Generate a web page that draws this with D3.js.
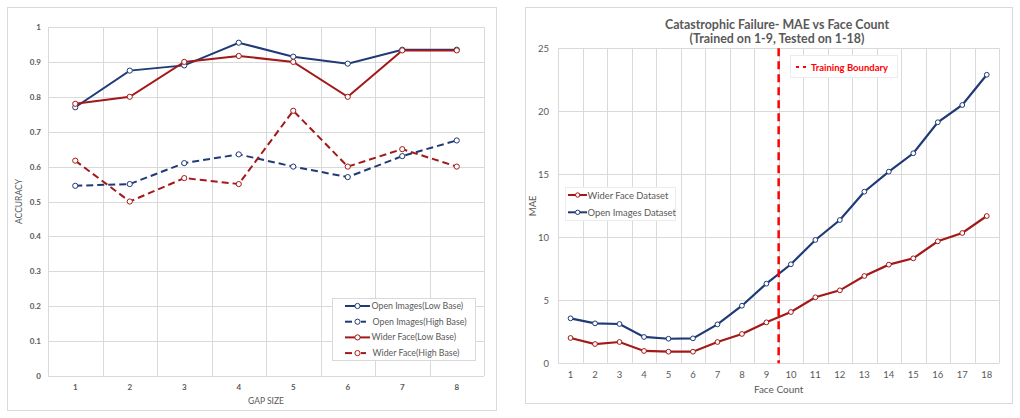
<!DOCTYPE html>
<html>
<head>
<meta charset="utf-8">
<script src="https://cdn.jsdelivr.net/npm/d3@7"></script>
<style>
  html, body { margin: 0; padding: 0; background: #fff; }
  svg { display: block; font-family: Lato, 'Open Sans', sans-serif; }
</style>
</head>
<body>
<svg id="chart" width="1020" height="418"></svg>
<script>
// left chart data
const gapSizes = [1, 2, 3, 4, 5, 6, 7, 8]
const openLow = [0.77, 0.875, 0.89, 0.955, 0.915, 0.895, 0.935, 0.935]
const openHigh = [0.545, 0.55, 0.61, 0.635, 0.60, 0.57, 0.63, 0.675]
const widerLow = [0.78, 0.80, 0.90, 0.917, 0.90, 0.80, 0.933, 0.933]
const widerHigh = [0.617, 0.50, 0.567, 0.55, 0.76, 0.60, 0.65, 0.60]
const accTicks = [0, 0.1, 0.2, 0.3, 0.4, 0.5, 0.6, 0.7, 0.8, 0.9, 1]

// right chart data
const faceCounts = [1, 2, 3, 4, 5, 6, 7, 8, 9, 10, 11, 12, 13, 14, 15, 16, 17, 18]
const openMae = [3.57, 3.17, 3.12, 2.09, 1.95, 1.98, 3.09, 4.57, 6.32, 7.86, 9.79, 11.37, 13.62, 15.21, 16.67, 19.13, 20.5, 22.9]
const widerMae = [2.01, 1.53, 1.69, 0.98, 0.92, 0.92, 1.69, 2.33, 3.25, 4.07, 5.24, 5.79, 6.93, 7.83, 8.33, 9.68, 10.34, 11.69]
const maeTicks = [0, 5, 10, 15, 20, 25]
const trainedUpTo = 9

const navy = '#1f3a76'
const red = '#a31818'
const grid = '#d9d9d9'
const textGrey = '#595959'

const svg = d3.select('#chart')

// ---------- left chart ----------
const left = svg.append('g')
left.append('rect')
  .attr('x', 7.5).attr('y', 7.5).attr('width', 489).attr('height', 403)
  .attr('fill', 'none').attr('stroke', grid)

const x1 = d3.scaleBand().domain(gapSizes).range([48, 484])
const y1 = d3.scaleLinear().domain([0, 1]).range([376, 27])

// horizontal grid
left.selectAll('line.hg')
  .data(accTicks)
  .join('line')
  .attr('x1', 48).attr('x2', 484)
  .attr('y1', d => Math.round(y1(d)) + 0.5)
  .attr('y2', d => Math.round(y1(d)) + 0.5)
  .attr('stroke', grid)

// vertical grid at band edges
left.selectAll('line.vg')
  .data(gapSizes.concat(['end']))
  .join('line')
  .attr('x1', (d, i) => Math.round(x1.range()[0] + i * x1.bandwidth()) + 0.5)
  .attr('x2', (d, i) => Math.round(x1.range()[0] + i * x1.bandwidth()) + 0.5)
  .attr('y1', y1(1)).attr('y2', y1(0))
  .attr('stroke', grid)

// y tick labels
left.selectAll('text.yt')
  .data(accTicks)
  .join('text')
  .attr('x', 41)
  .attr('y', d => y1(d) + 3)
  .attr('text-anchor', 'end')
  .attr('font-size', 8)
  .attr('font-weight', 'bold')
  .attr('fill', textGrey)
  .text(d => d3.format('~g')(d))

// x tick labels
left.selectAll('text.xt')
  .data(gapSizes)
  .join('text')
  .attr('x', d => x1(d) + x1.bandwidth() / 2)
  .attr('y', 390)
  .attr('text-anchor', 'middle')
  .attr('font-size', 8)
  .attr('font-weight', 'bold')
  .attr('fill', textGrey)
  .text(d => d)

left.append('text')
  .attr('x', (48 + 484) / 2).attr('y', 404)
  .attr('text-anchor', 'middle')
  .attr('font-size', 8.5).attr('fill', textGrey)
  .text('GAP SIZE')

left.append('text')
  .attr('transform', `translate(22,${(y1(0) + y1(1)) / 2}) rotate(-90)`)
  .attr('text-anchor', 'middle')
  .attr('font-size', 8.5).attr('fill', textGrey)
  .text('ACCURACY')

const leftSeries = [
  { name: 'Open Images(Low Base)', values: openLow, color: navy, dash: null },
  { name: 'Open Images(High Base)', values: openHigh, color: navy, dash: '7,4' },
  { name: 'Wider Face(Low Base)', values: widerLow, color: red, dash: null },
  { name: 'Wider Face(High Base)', values: widerHigh, color: red, dash: '7,4' },
]

const line1 = d3.line()
  .x((d, i) => x1(gapSizes[i]) + x1.bandwidth() / 2)
  .y(d => y1(d))

// draw high base first, then low
const drawOrder1 = [leftSeries[1], leftSeries[3], leftSeries[0], leftSeries[2]]
drawOrder1.forEach(s => {
  left.append('path')
    .attr('d', line1(s.values))
    .attr('fill', 'none')
    .attr('stroke', s.color)
    .attr('stroke-width', 2)
    .attr('stroke-dasharray', s.dash)
  left.selectAll(null)
    .data(s.values)
    .join('circle')
    .attr('cx', (d, i) => x1(gapSizes[i]) + x1.bandwidth() / 2)
    .attr('cy', d => y1(d))
    .attr('r', 2.6)
    .attr('fill', '#fff')
    .attr('stroke', s.color)
    .attr('stroke-width', 1)
})

// left legend
const lg1 = left.append('g')
lg1.append('rect')
  .attr('x', 332.5).attr('y', 298.5).attr('width', 143).attr('height', 62)
  .attr('fill', '#fff').attr('stroke', grid)
leftSeries.forEach((s, i) => {
  const ly = 306 + i * 15.7
  if (s.dash) {
    lg1.append('line').attr('x1', 345).attr('x2', 352).attr('y1', ly).attr('y2', ly)
      .attr('stroke', s.color).attr('stroke-width', 2)
    lg1.append('line').attr('x1', 361).attr('x2', 366).attr('y1', ly).attr('y2', ly)
      .attr('stroke', s.color).attr('stroke-width', 2)
  } else {
    lg1.append('line').attr('x1', 345).attr('x2', 370).attr('y1', ly).attr('y2', ly)
      .attr('stroke', s.color).attr('stroke-width', 2)
  }
  lg1.append('circle').attr('cx', 357.5).attr('cy', ly).attr('r', 2.6)
    .attr('fill', '#fff').attr('stroke', s.color)
  lg1.append('text')
    .attr('x', s.dash ? 372.5 : 371.5).attr('y', ly + 3)
    .attr('font-size', 8.8).attr('fill', textGrey)
    .text(s.name)
})

// ---------- right chart ----------
const right = svg.append('g')
right.append('rect')
  .attr('x', 525.5).attr('y', 7.5).attr('width', 487).attr('height', 396)
  .attr('fill', 'none').attr('stroke', grid)

const x2 = d3.scaleBand().domain(faceCounts).range([558.3, 999])
const y2 = d3.scaleLinear().domain([0, 25]).range([363.3, 48.3])

right.selectAll('line.hg')
  .data(maeTicks)
  .join('line')
  .attr('x1', 558.3).attr('x2', 999)
  .attr('y1', d => Math.round(y2(d)) + 0.5)
  .attr('y2', d => Math.round(y2(d)) + 0.5)
  .attr('stroke', grid)

right.selectAll('line.vg')
  .data(faceCounts.concat(['end']))
  .join('line')
  .attr('x1', (d, i) => Math.round(x2.range()[0] + i * x2.bandwidth()) + 0.5)
  .attr('x2', (d, i) => Math.round(x2.range()[0] + i * x2.bandwidth()) + 0.5)
  .attr('y1', y2(25)).attr('y2', y2(0))
  .attr('stroke', grid)

right.selectAll('text.yt')
  .data(maeTicks)
  .join('text')
  .attr('x', 549)
  .attr('y', d => y2(d) + 3.5)
  .attr('text-anchor', 'end')
  .attr('font-size', 9.5)
  .attr('fill', textGrey)
  .text(d => d)

right.selectAll('text.xt')
  .data(faceCounts)
  .join('text')
  .attr('x', d => x2(d) + x2.bandwidth() / 2)
  .attr('y', 378)
  .attr('text-anchor', 'middle')
  .attr('font-size', 9.5)
  .attr('fill', textGrey)
  .text(d => d)

right.append('text')
  .attr('x', (558.3 + 999) / 2).attr('y', 393)
  .attr('text-anchor', 'middle')
  .attr('font-size', 10).attr('fill', textGrey)
  .text('Face Count')

right.append('text')
  .attr('transform', `translate(536,${(y2(0) + y2(25)) / 2}) rotate(-90)`)
  .attr('text-anchor', 'middle')
  .attr('font-size', 9.5).attr('fill', textGrey)
  .text('MAE')

const title = right.append('text')
  .attr('text-anchor', 'middle')
  .attr('font-size', 12.4)
  .attr('font-weight', 'bold')
  .attr('fill', textGrey)
title.append('tspan').attr('x', 777).attr('y', 28.5).text('Catastrophic Failure- MAE vs Face Count')
title.append('tspan').attr('x', 777).attr('y', 43).text('(Trained on 1-9, Tested on 1-18)')

const line2 = d3.line()
  .x((d, i) => x2(faceCounts[i]) + x2.bandwidth() / 2)
  .y(d => y2(d))

const rightSeries = [
  { name: 'Wider Face Dataset', values: widerMae, color: red },
  { name: 'Open Images Dataset', values: openMae, color: navy },
]

rightSeries.forEach(s => {
  right.append('path')
    .attr('d', line2(s.values))
    .attr('fill', 'none')
    .attr('stroke', s.color)
    .attr('stroke-width', 2.2)
  right.selectAll(null)
    .data(s.values)
    .join('circle')
    .attr('cx', (d, i) => x2(faceCounts[i]) + x2.bandwidth() / 2)
    .attr('cy', d => y2(d))
    .attr('r', 2.4)
    .attr('fill', '#fff')
    .attr('stroke', s.color)
    .attr('stroke-width', 1)
})

// training boundary between 9 and 10
const bx = x2(trainedUpTo) + x2.bandwidth()
right.append('line')
  .attr('x1', bx).attr('x2', bx)
  .attr('y1', y2(25)).attr('y2', y2(0))
  .attr('stroke', '#ff0000')
  .attr('stroke-width', 2.5)
  .attr('stroke-dasharray', '8,5')

const tb = right.append('g')
tb.append('rect')
  .attr('x', 790.5).attr('y', 55.5).attr('width', 107).attr('height', 22)
  .attr('fill', '#fff').attr('stroke', '#ececec')
tb.append('line').attr('x1', 796).attr('x2', 799).attr('y1', 67).attr('y2', 67)
  .attr('stroke', '#ff0000').attr('stroke-width', 2)
tb.append('line').attr('x1', 803).attr('x2', 806).attr('y1', 67).attr('y2', 67)
  .attr('stroke', '#ff0000').attr('stroke-width', 2)
tb.append('text')
  .attr('x', 811).attr('y', 70.5)
  .attr('font-size', 9.5).attr('font-weight', 'bold')
  .attr('fill', '#ff0000')
  .text('Training Boundary')

// right legend
const lg2 = right.append('g')
lg2.append('rect')
  .attr('x', 565.5).attr('y', 187.5).attr('width', 110).attr('height', 33)
  .attr('fill', '#fff').attr('stroke', '#ececec')
rightSeries.forEach((s, i) => {
  const ly = 195 + i * 17.3
  lg2.append('line').attr('x1', 568).attr('x2', 587).attr('y1', ly).attr('y2', ly)
    .attr('stroke', s.color).attr('stroke-width', 2)
  lg2.append('circle').attr('cx', 577.7).attr('cy', ly).attr('r', 2.2)
    .attr('fill', '#fff').attr('stroke', s.color)
  lg2.append('text')
    .attr('x', 587.5).attr('y', ly + 3.5)
    .attr('font-size', 9.4).attr('fill', textGrey)
    .text(s.name)
})
</script>
</body>
</html>
